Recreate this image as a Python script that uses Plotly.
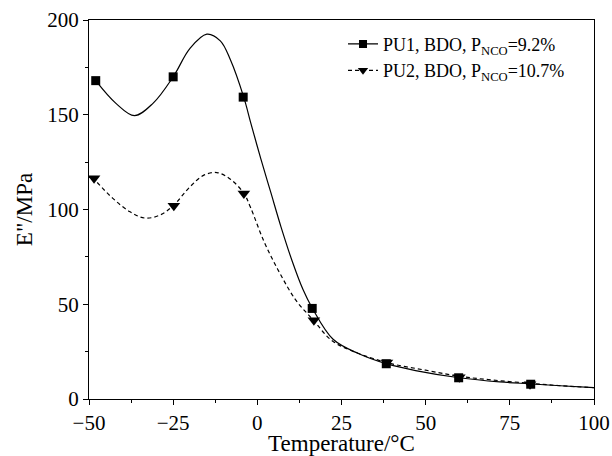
import plotly.graph_objects as go

# measured points (markers)
pu1_x = [-48, -25, -4.2, 16.3, 38.3, 59.8, 81.2]
pu1_y = [168, 170, 159.3, 47.8, 18.6, 11.2, 7.8]
pu2_x = [-48.5, -24.8, -4, 16.8, 38.5, 60, 81]
pu2_y = [116.5, 102, 108.5, 41.5, 19.3, 11.5, 7.8]

# fitted curves
pu1_cx = [-48, -42, -36.5, -31, -25, -20, -15, -11, -8, -4, -2, 1, 4, 7, 10.5, 13.5, 16.3, 22.5, 30, 38.5, 47, 60, 72, 81, 90, 100]
pu1_cy = [168, 156, 149.5, 156, 170, 185, 192.5, 189, 179, 159, 146, 127, 109, 91, 72, 58, 48, 31.5, 24, 18.5, 15, 11.2, 9, 8, 7, 6]
pu2_cx = [-49, -43, -38, -33.5, -29, -25, -20, -16, -12, -8, -4, -2, 2, 6.5, 11.5, 16.7, 22, 28, 38.5, 50, 60, 70, 81, 90, 100]
pu2_cy = [117, 106, 99, 95.5, 97, 102, 112, 118, 119.5, 116, 108.5, 101, 83, 67, 52, 41.5, 31, 25.5, 19.2, 15.2, 12, 10, 8.3, 7, 6]

names = ["PU1, BDO, P<sub>NCO</sub>=9.2%", "PU2, BDO, P<sub>NCO</sub>=10.7%"]

fig = go.Figure()

dash2 = "4px,3px"

fig.add_trace(go.Scatter(x=pu1_cx, y=pu1_cy, mode="lines", line=dict(color="black", width=1.2, shape="spline", smoothing=1), showlegend=False))
fig.add_trace(go.Scatter(x=pu2_cx, y=pu2_cy, mode="lines", line=dict(color="black", width=1.2, dash=dash2, shape="spline", smoothing=1), showlegend=False))
fig.add_trace(go.Scatter(x=pu1_x, y=pu1_y, mode="markers", marker=dict(symbol="square", size=9, color="black"), showlegend=False))
fig.add_trace(go.Scatter(x=pu2_x, y=pu2_y, mode="markers", marker=dict(symbol="triangle-down", size=11, color="black"), showlegend=False))

# legend-only entries
fig.add_trace(go.Scatter(x=[None], y=[None], mode="lines+markers", name=names[0],
                         line=dict(color="black", width=1.2), marker=dict(symbol="square", size=8, color="black")))
fig.add_trace(go.Scatter(x=[None], y=[None], mode="lines+markers", name=names[1],
                         line=dict(color="black", width=1.2, dash=dash2), marker=dict(symbol="triangle-down", size=9, color="black")))

font = "Liberation Serif, Times New Roman, serif"
fig.update_layout(
    width=612, height=456,
    margin=dict(l=89, r=18, t=20, b=57, autoexpand=False),
    paper_bgcolor="white", plot_bgcolor="white",
    font=dict(family=font, size=21, color="black"),
    legend=dict(x=0.503, y=0.985, xanchor="left", yanchor="top", bgcolor="rgba(0,0,0,0)",
                font=dict(size=18, family=font), tracegroupgap=0, itemwidth=30),
)
fig.update_xaxes(range=[-50, 100], tickvals=[-50, -25, 0, 25, 50, 75, 100],
                 ticks="outside", ticklen=5, tickwidth=1.2, tickcolor="black",
                 minor=dict(ticks="outside", ticklen=3, tickwidth=1, tickcolor="black", dtick=12.5),
                 showline=True, linecolor="black", linewidth=1.2, mirror=True,
                 showgrid=False, zeroline=False, automargin=False,
                 title=dict(text="Temperature/°C", font=dict(size=23), standoff=9))
fig.update_yaxes(range=[0, 200], tickvals=[0, 50, 100, 150, 200],
                 ticks="outside", ticklen=5, tickwidth=1.2, tickcolor="black",
                 minor=dict(ticks="outside", ticklen=3, tickwidth=1, tickcolor="black", dtick=25),
                 showline=True, linecolor="black", linewidth=1.2, mirror=True,
                 showgrid=False, zeroline=False, automargin=False,
                 title=dict(text='E"/MPa', font=dict(size=23), standoff=8))

# the page body has a default 8px margin; drop it so the figure sits at the corner
fig.write_html("out.html", config={"displayModeBar": False},
               post_script="document.body.style.margin='0';")
